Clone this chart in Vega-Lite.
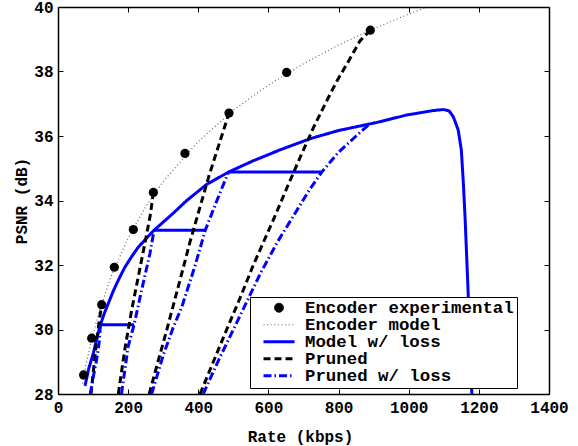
{
  "$schema": "https://vega.github.io/schema/vega-lite/v6.json",
  "width": 491,
  "height": 387,
  "autosize": {"type": "none"},
  "padding": {"left": 58, "top": 7, "right": 29, "bottom": 52},
  "background": "white",
  "datasets": {
    "lines": [
      {"series": "Encoder model", "seg": "m", "rate": 70, "psnr": 28.32},
      {"series": "Encoder model", "seg": "m", "rate": 80, "psnr": 28.90},
      {"series": "Encoder model", "seg": "m", "rate": 90, "psnr": 29.40},
      {"series": "Encoder model", "seg": "m", "rate": 100, "psnr": 29.86},
      {"series": "Encoder model", "seg": "m", "rate": 120, "psnr": 30.64},
      {"series": "Encoder model", "seg": "m", "rate": 150, "psnr": 31.61},
      {"series": "Encoder model", "seg": "m", "rate": 200, "psnr": 32.84},
      {"series": "Encoder model", "seg": "m", "rate": 250, "psnr": 33.81},
      {"series": "Encoder model", "seg": "m", "rate": 300, "psnr": 34.59},
      {"series": "Encoder model", "seg": "m", "rate": 400, "psnr": 35.83},
      {"series": "Encoder model", "seg": "m", "rate": 500, "psnr": 36.80},
      {"series": "Encoder model", "seg": "m", "rate": 600, "psnr": 37.58},
      {"series": "Encoder model", "seg": "m", "rate": 700, "psnr": 38.24},
      {"series": "Encoder model", "seg": "m", "rate": 800, "psnr": 38.82},
      {"series": "Encoder model", "seg": "m", "rate": 900, "psnr": 39.33},
      {"series": "Encoder model", "seg": "m", "rate": 1000, "psnr": 39.78},
      {"series": "Encoder model", "seg": "m", "rate": 1052, "psnr": 40.0},

      {"series": "Model w/ loss", "seg": "main", "rate": 77, "psnr": 28.25},
      {"series": "Model w/ loss", "seg": "main", "rate": 88, "psnr": 28.8},
      {"series": "Model w/ loss", "seg": "main", "rate": 100.7, "psnr": 29.26},
      {"series": "Model w/ loss", "seg": "main", "rate": 110, "psnr": 29.7},
      {"series": "Model w/ loss", "seg": "main", "rate": 121, "psnr": 30.15},
      {"series": "Model w/ loss", "seg": "main", "rate": 132, "psnr": 30.5},
      {"series": "Model w/ loss", "seg": "main", "rate": 143.5, "psnr": 30.81},
      {"series": "Model w/ loss", "seg": "main", "rate": 157, "psnr": 31.18},
      {"series": "Model w/ loss", "seg": "main", "rate": 172, "psnr": 31.53},
      {"series": "Model w/ loss", "seg": "main", "rate": 190, "psnr": 31.92},
      {"series": "Model w/ loss", "seg": "main", "rate": 210, "psnr": 32.26},
      {"series": "Model w/ loss", "seg": "main", "rate": 228, "psnr": 32.54},
      {"series": "Model w/ loss", "seg": "main", "rate": 248, "psnr": 32.78},
      {"series": "Model w/ loss", "seg": "main", "rate": 274, "psnr": 33.08},
      {"series": "Model w/ loss", "seg": "main", "rate": 300, "psnr": 33.33},
      {"series": "Model w/ loss", "seg": "main", "rate": 330, "psnr": 33.62},
      {"series": "Model w/ loss", "seg": "main", "rate": 367, "psnr": 34.0},
      {"series": "Model w/ loss", "seg": "main", "rate": 424, "psnr": 34.5},
      {"series": "Model w/ loss", "seg": "main", "rate": 486, "psnr": 34.88},
      {"series": "Model w/ loss", "seg": "main", "rate": 550, "psnr": 35.2},
      {"series": "Model w/ loss", "seg": "main", "rate": 633, "psnr": 35.57},
      {"series": "Model w/ loss", "seg": "main", "rate": 720, "psnr": 35.92},
      {"series": "Model w/ loss", "seg": "main", "rate": 800, "psnr": 36.17},
      {"series": "Model w/ loss", "seg": "main", "rate": 909, "psnr": 36.42},
      {"series": "Model w/ loss", "seg": "main", "rate": 994, "psnr": 36.65},
      {"series": "Model w/ loss", "seg": "main", "rate": 1032, "psnr": 36.72},
      {"series": "Model w/ loss", "seg": "main", "rate": 1070, "psnr": 36.79},
      {"series": "Model w/ loss", "seg": "main", "rate": 1099, "psnr": 36.82},
      {"series": "Model w/ loss", "seg": "main", "rate": 1115, "psnr": 36.78},
      {"series": "Model w/ loss", "seg": "main", "rate": 1127, "psnr": 36.6},
      {"series": "Model w/ loss", "seg": "main", "rate": 1141, "psnr": 36.19},
      {"series": "Model w/ loss", "seg": "main", "rate": 1150, "psnr": 35.57},
      {"series": "Model w/ loss", "seg": "main", "rate": 1156, "psnr": 34.5},
      {"series": "Model w/ loss", "seg": "main", "rate": 1161, "psnr": 33.4},
      {"series": "Model w/ loss", "seg": "main", "rate": 1170, "psnr": 31.0},
      {"series": "Model w/ loss", "seg": "main", "rate": 1180, "psnr": 28.0},
      {"series": "Model w/ loss", "seg": "s1", "rate": 121, "psnr": 30.15},
      {"series": "Model w/ loss", "seg": "s1", "rate": 217, "psnr": 30.15},
      {"series": "Model w/ loss", "seg": "s2", "rate": 274, "psnr": 33.08},
      {"series": "Model w/ loss", "seg": "s2", "rate": 420, "psnr": 33.08},
      {"series": "Model w/ loss", "seg": "s3", "rate": 486, "psnr": 34.88},
      {"series": "Model w/ loss", "seg": "s3", "rate": 752, "psnr": 34.88},

      {"series": "Pruned", "seg": "p1", "rate": 94, "psnr": 28.0},
      {"series": "Pruned", "seg": "p1", "rate": 100, "psnr": 28.62},
      {"series": "Pruned", "seg": "p1", "rate": 106, "psnr": 29.25},
      {"series": "Pruned", "seg": "p1", "rate": 112, "psnr": 29.8},
      {"series": "Pruned", "seg": "p1", "rate": 118, "psnr": 30.3},
      {"series": "Pruned", "seg": "p1", "rate": 124.5, "psnr": 30.77},
      {"series": "Pruned", "seg": "p2", "rate": 172, "psnr": 28.0},
      {"series": "Pruned", "seg": "p2", "rate": 190, "psnr": 29.35},
      {"series": "Pruned", "seg": "p2", "rate": 210, "psnr": 30.6},
      {"series": "Pruned", "seg": "p2", "rate": 230, "psnr": 31.7},
      {"series": "Pruned", "seg": "p2", "rate": 250, "psnr": 32.8},
      {"series": "Pruned", "seg": "p2", "rate": 264, "psnr": 33.6},
      {"series": "Pruned", "seg": "p2", "rate": 271.8, "psnr": 34.25},
      {"series": "Pruned", "seg": "p3", "rate": 260, "psnr": 28.0},
      {"series": "Pruned", "seg": "p3", "rate": 285, "psnr": 29.0},
      {"series": "Pruned", "seg": "p3", "rate": 308, "psnr": 29.9},
      {"series": "Pruned", "seg": "p3", "rate": 330, "psnr": 30.8},
      {"series": "Pruned", "seg": "p3", "rate": 352, "psnr": 31.7},
      {"series": "Pruned", "seg": "p3", "rate": 376, "psnr": 32.7},
      {"series": "Pruned", "seg": "p3", "rate": 405, "psnr": 33.8},
      {"series": "Pruned", "seg": "p3", "rate": 430, "psnr": 34.75},
      {"series": "Pruned", "seg": "p3", "rate": 455, "psnr": 35.6},
      {"series": "Pruned", "seg": "p3", "rate": 487.6, "psnr": 36.71},
      {"series": "Pruned", "seg": "p4", "rate": 405, "psnr": 28.0},
      {"series": "Pruned", "seg": "p4", "rate": 443, "psnr": 29.0},
      {"series": "Pruned", "seg": "p4", "rate": 481, "psnr": 30.0},
      {"series": "Pruned", "seg": "p4", "rate": 520, "psnr": 31.0},
      {"series": "Pruned", "seg": "p4", "rate": 557, "psnr": 32.0},
      {"series": "Pruned", "seg": "p4", "rate": 614, "psnr": 33.4},
      {"series": "Pruned", "seg": "p4", "rate": 655, "psnr": 34.45},
      {"series": "Pruned", "seg": "p4", "rate": 695, "psnr": 35.45},
      {"series": "Pruned", "seg": "p4", "rate": 728, "psnr": 36.25},
      {"series": "Pruned", "seg": "p4", "rate": 762, "psnr": 37.0},
      {"series": "Pruned", "seg": "p4", "rate": 795, "psnr": 37.7},
      {"series": "Pruned", "seg": "p4", "rate": 830, "psnr": 38.35},
      {"series": "Pruned", "seg": "p4", "rate": 861, "psnr": 38.95},
      {"series": "Pruned", "seg": "p4", "rate": 890.5, "psnr": 39.28},

      {"series": "Pruned w/ loss", "seg": "q1", "rate": 92, "psnr": 28.0},
      {"series": "Pruned w/ loss", "seg": "q1", "rate": 100.7, "psnr": 28.54},
      {"series": "Pruned w/ loss", "seg": "q1", "rate": 110, "psnr": 29.05},
      {"series": "Pruned w/ loss", "seg": "q1", "rate": 117, "psnr": 29.57},
      {"series": "Pruned w/ loss", "seg": "q1", "rate": 121, "psnr": 30.15},
      {"series": "Pruned w/ loss", "seg": "q2", "rate": 181, "psnr": 28.0},
      {"series": "Pruned w/ loss", "seg": "q2", "rate": 200, "psnr": 29.47},
      {"series": "Pruned w/ loss", "seg": "q2", "rate": 217, "psnr": 30.15},
      {"series": "Pruned w/ loss", "seg": "q2", "rate": 238, "psnr": 31.2},
      {"series": "Pruned w/ loss", "seg": "q2", "rate": 262, "psnr": 32.35},
      {"series": "Pruned w/ loss", "seg": "q2", "rate": 274, "psnr": 33.08},
      {"series": "Pruned w/ loss", "seg": "q3", "rate": 267, "psnr": 28.0},
      {"series": "Pruned w/ loss", "seg": "q3", "rate": 300, "psnr": 29.2},
      {"series": "Pruned w/ loss", "seg": "q3", "rate": 328, "psnr": 30.05},
      {"series": "Pruned w/ loss", "seg": "q3", "rate": 353, "psnr": 30.7},
      {"series": "Pruned w/ loss", "seg": "q3", "rate": 390, "psnr": 31.95},
      {"series": "Pruned w/ loss", "seg": "q3", "rate": 420, "psnr": 33.08},
      {"series": "Pruned w/ loss", "seg": "q3", "rate": 455, "psnr": 34.05},
      {"series": "Pruned w/ loss", "seg": "q3", "rate": 486, "psnr": 34.88},
      {"series": "Pruned w/ loss", "seg": "q4", "rate": 414, "psnr": 28.0},
      {"series": "Pruned w/ loss", "seg": "q4", "rate": 460, "psnr": 29.1},
      {"series": "Pruned w/ loss", "seg": "q4", "rate": 500, "psnr": 30.0},
      {"series": "Pruned w/ loss", "seg": "q4", "rate": 540, "psnr": 30.9},
      {"series": "Pruned w/ loss", "seg": "q4", "rate": 580, "psnr": 31.8},
      {"series": "Pruned w/ loss", "seg": "q4", "rate": 625, "psnr": 32.7},
      {"series": "Pruned w/ loss", "seg": "q4", "rate": 670, "psnr": 33.5},
      {"series": "Pruned w/ loss", "seg": "q4", "rate": 718, "psnr": 34.35},
      {"series": "Pruned w/ loss", "seg": "q4", "rate": 752, "psnr": 34.88},
      {"series": "Pruned w/ loss", "seg": "q4", "rate": 800, "psnr": 35.5},
      {"series": "Pruned w/ loss", "seg": "q4", "rate": 850, "psnr": 36.0},
      {"series": "Pruned w/ loss", "seg": "q4", "rate": 885, "psnr": 36.34}
    ],
    "points": [
      {"rate": 73, "psnr": 28.59},
      {"rate": 96, "psnr": 29.73},
      {"rate": 124.5, "psnr": 30.77},
      {"rate": 160.6, "psnr": 31.93},
      {"rate": 214.8, "psnr": 33.1},
      {"rate": 271.8, "psnr": 34.25},
      {"rate": 362, "psnr": 35.46},
      {"rate": 487.6, "psnr": 36.71},
      {"rate": 652, "psnr": 37.97},
      {"rate": 890.5, "psnr": 39.28}
    ]
  },
  "layer": [
    {
      "data": {"name": "lines"},
      "mark": {"type": "line", "clip": true, "strokeCap": "butt", "strokeJoin": "round"},
      "encoding": {
        "x": {
          "field": "rate", "type": "quantitative",
          "scale": {"domain": [0, 1400], "nice": false, "zero": false},
          "axis": {
            "values": [0, 200, 400, 600, 800, 1000, 1200, 1400],
            "format": "d",
            "title": "Rate (kbps)",
            "titleX": 242, "titleY": 47, "titleAlign": "center", "titleBaseline": "alphabetic"
          }
        },
        "y": {
          "field": "psnr", "type": "quantitative",
          "scale": {"domain": [28, 40], "nice": false, "zero": false},
          "axis": {
            "values": [28, 30, 32, 34, 36, 38, 40],
            "format": "d",
            "title": "PSNR (dB)",
            "titleX": -32, "titleY": 193.5, "titleAlign": "center", "titleBaseline": "alphabetic", "titleAngle": -90
          }
        },
        "color": {
          "field": "series", "type": "nominal",
          "scale": {
            "domain": ["Encoder experimental", "Encoder model", "Model w/ loss", "Pruned", "Pruned w/ loss"],
            "range": ["#000000", "#666666", "#0000ff", "#000000", "#0000ff"]
          },
          "legend": {
            "title": null,
            "rowPadding": -2,
            "encode": {
              "symbols": {
                "update": {
                  "shape": {"signal": "datum.value === 'Encoder experimental' ? 'circle' : 'stroke'"},
                  "size": {"signal": "datum.value === 'Encoder experimental' ? 80 : 961"},
                  "fill": {"signal": "datum.value === 'Encoder experimental' ? 'black' : 'transparent'"}
                }
              }
            }
          }
        },
        "strokeDash": {
          "field": "series", "type": "nominal",
          "scale": {
            "domain": ["Encoder experimental", "Encoder model", "Model w/ loss", "Pruned", "Pruned w/ loss"],
            "range": [[1, 0], [1, 2.6], [1, 0], [7, 4], [8, 3, 1.5, 3]]
          },
          "legend": {"title": null, "rowPadding": -2}
        },
        "strokeWidth": {
          "field": "series", "type": "ordinal",
          "scale": {
            "type": "ordinal",
            "domain": ["Encoder experimental", "Encoder model", "Model w/ loss", "Pruned", "Pruned w/ loss"],
            "range": [1, 1.2, 3, 3, 3]
          },
          "legend": {"title": null, "rowPadding": -2}
        },
        "detail": {"field": "seg", "type": "nominal"}
      }
    },
    {
      "data": {"name": "points"},
      "mark": {"type": "point", "filled": true, "color": "black", "size": 85, "opacity": 1},
      "encoding": {
        "x": {
          "field": "rate", "type": "quantitative",
          "scale": {"domain": [0, 1400], "nice": false, "zero": false},
          "axis": {"orient": "top", "values": [0, 200, 400, 600, 800, 1000, 1200, 1400], "labels": false, "title": null}
        },
        "y": {
          "field": "psnr", "type": "quantitative",
          "scale": {"domain": [28, 40], "nice": false, "zero": false},
          "axis": {"orient": "right", "values": [28, 30, 32, 34, 36, 38, 40], "labels": false, "title": null}
        }
      }
    }
  ],
  "resolve": {"axis": {"x": "independent", "y": "independent"}},
  "config": {
    "view": {"stroke": null},
    "axis": {
      "domainColor": "black", "domainWidth": 1.5,
      "tickColor": "black", "tickSize": -5, "tickWidth": 1,
      "labelPadding": 10,
      "labelFont": "Liberation Mono", "labelFontWeight": "bold", "labelFontSize": 16, "labelColor": "black",
      "titleFont": "Liberation Mono", "titleFontWeight": "bold", "titleFontSize": 16, "titleColor": "black",
      "grid": false, "labelFlush": false, "labelOverlap": false
    },
    "legend": {
      "orient": "none", "legendX": 192, "legendY": 290,
      "strokeColor": "black", "fillColor": "white", "padding": 3,
      "symbolSize": 961, "symbolOffset": 9, "labelOffset": 9,
      "labelFont": "Liberation Mono", "labelFontWeight": "bold", "labelFontSize": 17.4, "labelColor": "black",
      "labelExpr": "datum.label + ' '",
      "labelLimit": 0, "clipHeight": 15.5
    }
  }
}
